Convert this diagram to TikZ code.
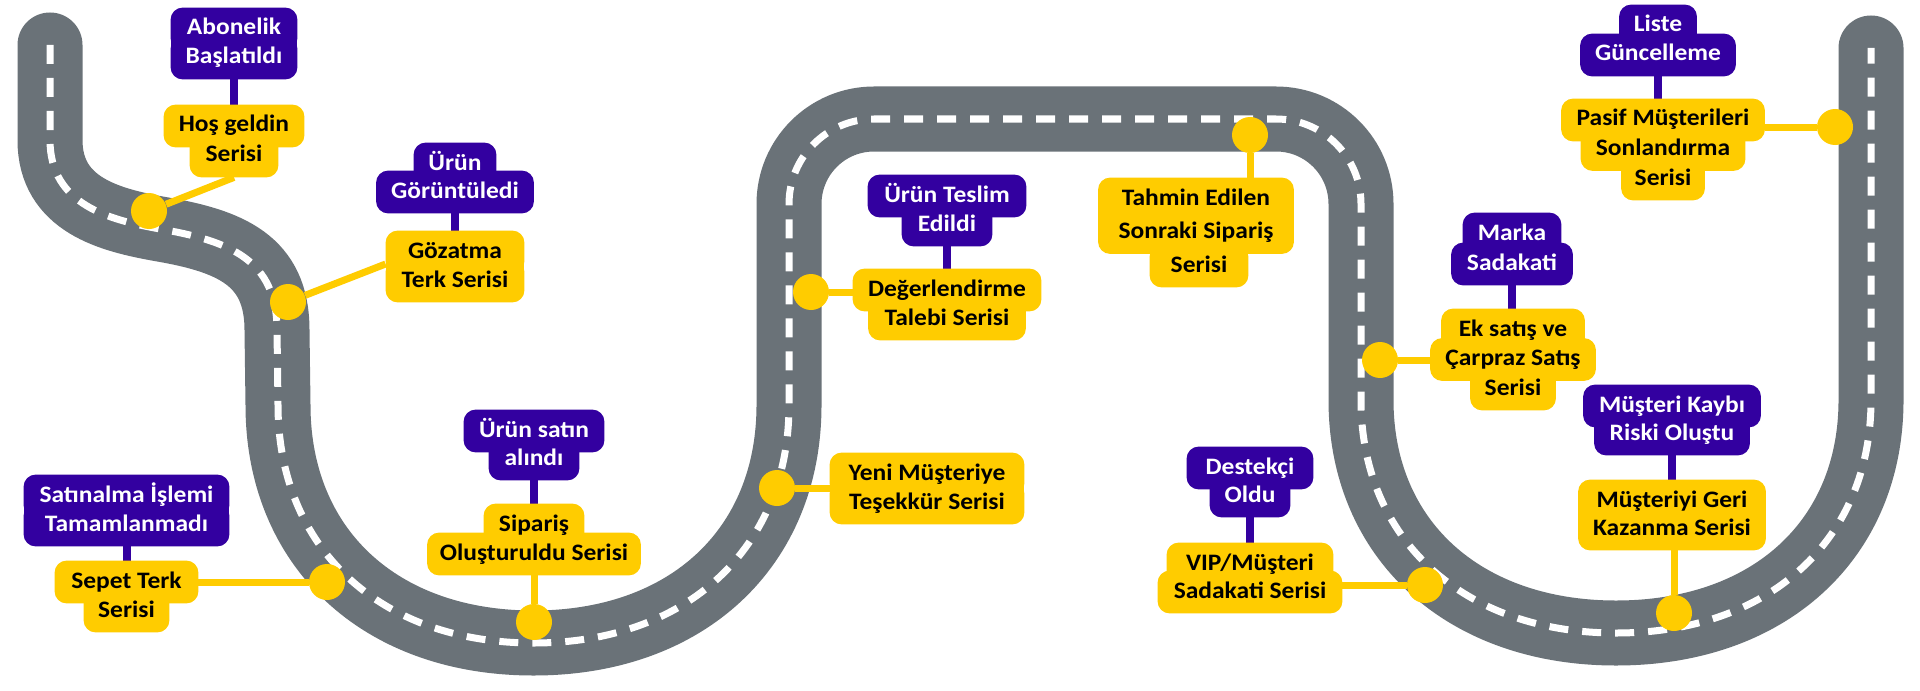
\documentclass[tikz,border=0pt]{standalone}
\usepackage{fontspec}
\newfontfamily\boxfont[FakeStretch=1.08]{Carlito}
\definecolor{purp}{RGB}{51,0,160}
\definecolor{yell}{RGB}{255,204,0}
\definecolor{roadgray}{RGB}{106,114,120}
\pgfdeclarelayer{road}
\pgfdeclarelayer{conn}
\pgfdeclarelayer{boxbg}
\pgfsetlayers{road,conn,boxbg,main}
\tikzset{
 lbl/.style={inner sep=0pt, minimum height=21pt, text height=9pt, text depth=3pt,
   font=\boxfont\bfseries\fontsize{11.8pt}{15pt}\selectfont},
 pl/.style={lbl, text=white},
 yl/.style={lbl, text=black},
 milestone/.style={circle, fill=yell, minimum size=18pt, inner sep=0pt},
 lnk/.style={yell, line width=3.5pt},
 stemline/.style={purp, line width=4pt},
 roadbed/.style={roadgray, line width=32.5pt, line cap=round},
 roadline/.style={white, line width=3.5pt, dash pattern=on 9.5pt off 7pt},
 pfill/.style={fill=purp, rounded corners=6pt},
 yfill/.style={fill=yell, rounded corners=6pt},
}
\newcommand\roadpath{(50,45) -- (50,140) .. controls (50,205) and (110,220) .. (160,229)
  .. controls (230,241) and (277,260) .. (277,330) -- (278,405)
  .. controls (278,548) and (380,643) .. (533.5,643)
  .. controls (687,643) and (789,548) .. (789,405) -- (789,204)
  .. controls (789,157) and (827,119) .. (874,119) -- (1276,119)
  .. controls (1323,119) and (1361,157) .. (1361,204) -- (1361,400)
  .. controls (1361,540) and (1464,633) .. (1616,633)
  .. controls (1769,633) and (1871,540) .. (1871,400) -- (1871,48)}
\begin{document}
\begin{tikzpicture}[x=0.5pt,y=-0.5pt]
\useasboundingbox (0,0) rectangle (1920,690);

% road
\begin{pgfonlayer}{road}
\fill[white] (0,0) rectangle (1920,690);
\draw[roadbed] \roadpath;
\draw[roadline] \roadpath;
\end{pgfonlayer}

% label lines
\node[pl, minimum width=63pt] (a1) at (234,29) {Abonelik};
\node[pl, minimum width=63pt] (a2) at (234,58) {Başlatıldı};
\node[yl, minimum width=70pt] (b1) at (234,126) {Hoş geldin};
\node[yl, minimum width=44pt] (b2) at (234,156) {Serisi};

\node[pl, minimum width=41pt] (c1) at (455,164) {Ürün};
\node[pl, minimum width=78.5pt] (c2) at (455,192) {Görüntüledi};
\node[yl, minimum width=69pt] (e1) at (455,252) {Gözatma};
\node[yl, minimum width=69pt] (e2) at (455,281) {Terk Serisi};

\node[pl, minimum width=102.5pt] (f1) at (126.5,496) {Satınalma İşlemi};
\node[pl, minimum width=102.5pt] (f2) at (126.5,525) {Tamamlanmadı};
\node[yl, minimum width=71.5pt] (g1) at (126.5,582) {Sepet Terk};
\node[yl, minimum width=42.5pt] (g2) at (126.5,611) {Serisi};

\node[pl, minimum width=70pt] (h1) at (534,431) {Ürün satın};
\node[pl, minimum width=45pt] (h2) at (534,459) {alındı};
\node[yl, minimum width=50pt] (i1) at (534,525) {Sipariş};
\node[yl, minimum width=106.5pt] (i2) at (534,554) {Oluşturuldu Serisi};

\node[pl, minimum width=79pt] (j1) at (947,196) {Ürün Teslim};
\node[pl, minimum width=45pt] (j2) at (947,225) {Edildi};
\node[yl, minimum width=94pt] (k1) at (947,290) {Değerlendirme};
\node[yl, minimum width=78.5pt] (k2) at (947,319) {Talebi Serisi};

\node[yl, minimum width=97.5pt] (m1) at (1196,199) {Tahmin Edilen};
\node[yl, minimum width=97.5pt] (m2) at (1196,232.5) {Sonraki Sipariş};
\node[yl, minimum width=49pt] (m3) at (1199,266) {Serisi};

\node[yl, minimum width=97pt] (n1) at (927,474) {Yeni Müşteriye};
\node[yl, minimum width=97pt] (n2) at (927,503) {Teşekkür Serisi};

\node[pl, minimum width=63pt] (o1) at (1250,468) {Destekçi};
\node[pl, minimum width=40pt] (o2) at (1250,496) {Oldu};
\node[yl, minimum width=83pt] (q1) at (1250,564) {VIP/Müşteri};
\node[yl, minimum width=92pt] (q2) at (1250,592) {Sadakati Serisi};

\node[pl, minimum width=38.5pt] (r1) at (1658,26) {Liste};
\node[pl, minimum width=77.5pt] (r2) at (1658,55) {Güncelleme};
\node[yl, minimum width=101.5pt] (s1) at (1663,120) {Pasif Müşterileri};
\node[yl, minimum width=82pt] (s2) at (1663,149.5) {Sonlandırma};
\node[yl, minimum width=41.5pt] (s3) at (1663,179) {Serisi};

\node[pl, minimum width=49pt] (t1) at (1512,234) {Marka};
\node[pl, minimum width=60.5pt] (t2) at (1512,264) {Sadakati};
\node[yl, minimum width=71.5pt] (u1) at (1513,330) {Ek satış ve};
\node[yl, minimum width=82.5pt] (u2) at (1513,359.5) {Çarpraz Satış};
\node[yl, minimum width=42.5pt] (u3) at (1513,389) {Serisi};

\node[pl, minimum width=88.5pt] (v1) at (1672,406) {Müşteri Kaybı};
\node[pl, minimum width=77.5pt] (v2) at (1672,434) {Riski Oluştu};
\node[yl, minimum width=93.5pt] (w1) at (1672,501) {Müşteriyi Geri};
\node[yl, minimum width=93.5pt] (w2) at (1672,529) {Kazanma Serisi};

% milestones on the road
\node[milestone] (d1) at (149,211) {};
\node[milestone] (d2) at (288,302) {};
\node[milestone] (d3) at (327,582) {};
\node[milestone] (d4) at (534,622) {};
\node[milestone] (d5) at (811,292) {};
\node[milestone] (d6) at (1250,135) {};
\node[milestone] (d7) at (777,488) {};
\node[milestone] (d8) at (1425,585) {};
\node[milestone] (d9) at (1835,127) {};
\node[milestone] (d10) at (1380,360) {};
\node[milestone] (d11) at (1674,613) {};

% box backgrounds: one rounded plate per line, joined by a band
\begin{pgfonlayer}{boxbg}
\foreach \n in {a1,a2,c1,c2,f1,f2,h1,h2,j1,j2,o1,o2,r1,r2,t1,t2,v1,v2}
  \path[pfill] (\n.south west) rectangle (\n.north east);
\foreach \n in {b1,b2,e1,e2,g1,g2,i1,i2,k1,k2,m1,m2,m3,n1,n2,q1,q2,s1,s2,s3,u1,u2,u3,w1,w2}
  \path[yfill] (\n.south west) rectangle (\n.north east);
\foreach \p/\q/\s in {a1/a2/a1,c1/c2/c1,f1/f2/f1,h1/h2/h2,j1/j2/j2,o1/o2/o2,r1/r2/r1,t1/t2/t1,v1/v2/v2}
  \fill[purp] (\s.west |- \p.center) rectangle (\s.east |- \q.center);
\foreach \p/\q/\s in {b1/b2/b2,e1/e2/e1,g1/g2/g2,i1/i2/i1,k1/k2/k2,m1/m2/m1,m2/m3/m3,n1/n2/n1,q1/q2/q1,s1/s2/s2,s2/s3/s3,u1/u2/u1,u2/u3/u3,w1/w2/w1}
  \fill[yell] (\s.west |- \p.center) rectangle (\s.east |- \q.center);
\end{pgfonlayer}

% connectors and stems
\begin{pgfonlayer}{conn}
\draw[stemline] (a2.south) -- (b1.north);
\draw[stemline] (c2.south) -- (e1.north);
\draw[stemline] (f2.south) -- (g1.north);
\draw[stemline] (h2.south) -- (i1.north);
\draw[stemline] (j2.south) -- (k1.north);
\draw[stemline] (o2.south) -- (q1.north);
\draw[stemline] (r2.south) -- (r2.south |- s1.north);
\draw[stemline] (t2.south) -- (t2.south |- u1.north);
\draw[stemline] (v2.south) -- (w1.north);

\draw[lnk] (b2.south) -- (d1);
\draw[lnk] ([yshift=-6pt]e1.west) -- (d2);
\draw[lnk] (g1.east) -- (d3);
\draw[lnk] (i2.south) -- (d4);
\draw[lnk] (d5) -- (d5 -| k1.west);
\draw[lnk] (d6) -- (d6 |- m1.north);
\draw[lnk] (d7) -- (d7 -| n1.west);
\draw[lnk] (d8) -- (d8 -| q2.east);
\draw[lnk] (d9) -- (d9 -| s1.east);
\draw[lnk] (d10) -- (d10 -| u2.west);
\draw[lnk] (d11) -- (d11 |- w2.south);
\end{pgfonlayer}
\end{tikzpicture}
\end{document}
